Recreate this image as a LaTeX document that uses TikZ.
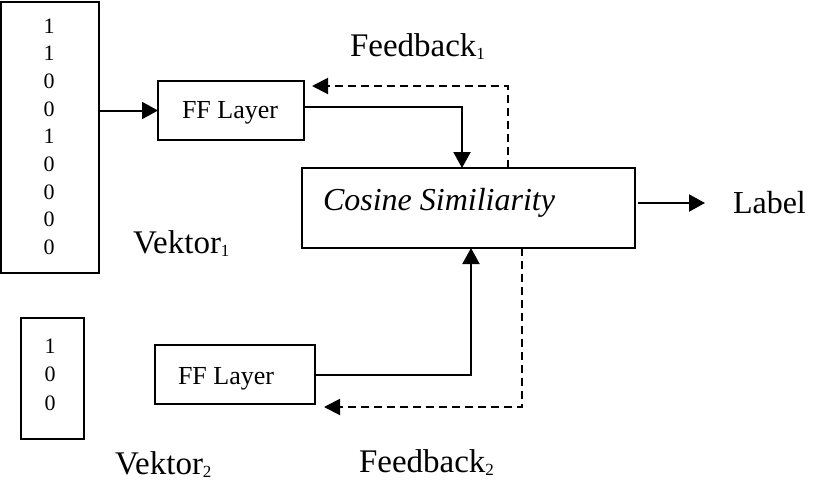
\documentclass[tikz,border=0pt]{standalone}
\usepackage{fontspec}
\setmainfont{Liberation Serif}
\usetikzlibrary{arrows.meta}
\newcommand{\mysub}[1]{\raisebox{-3pt}{\fontsize{17}{17}\selectfont #1}}
\tikzset{
  box/.style={draw, line width=2pt, inner sep=0pt, outer sep=0pt},
  txt/.style={inner sep=0pt, outer sep=0pt, anchor=base west},
  big/.style={font=\fontsize{33}{40}\selectfont},
  mid/.style={font=\fontsize{26}{31}\selectfont},
  dig/.style={inner sep=0pt, anchor=base, font=\fontsize{22}{26}\selectfont},
  arr/.style={line width=2pt, -{Triangle[length=16pt,width=17pt]}},
  darr/.style={line width=2pt, dash pattern=on 8pt off 5pt, -{Triangle[length=16pt,width=16pt]}},
}
\begin{document}
\begin{tikzpicture}[x=1pt,y=-1pt]
\useasboundingbox (0,0) rectangle (813,480);
% vector boxes
\node[box, minimum width=98pt, minimum height=271pt] (v1) at (50,137) {};
\foreach \d [count=\i] in {1,1,0,0,1,0,0,0,0}
  \node[dig] (a\i) at (49,{33+27.7*(\i-1)}) {\d};
\node[box, minimum width=63pt, minimum height=121pt] (v2) at (52.5,378.5) {};
\foreach \d [count=\i] in {1,0,0}
  \node[dig] (b\i) at (50,{353+28.5*(\i-1)}) {\d};
% FF layers
\node[box, minimum width=146pt, minimum height=59pt] (ff1) at (231,110.5) {};
\node[txt, mid] (ff1t) at (182,118) {FF Layer};
\node[box, minimum width=160pt, minimum height=59pt] (ff2) at (235,374.5) {};
\node[txt, mid] (ff2t) at (178,384) {FF Layer};
% cosine
\node[box, minimum width=333pt, minimum height=80pt] (cos) at (468.5,208) {};
\node[txt, font=\fontsize{32}{38}\selectfont\itshape] (cost) at (323,210) {Cosine Similiarity};
% labels
\node[txt, big] (fb1) at (350,56) {Feedback\mysub{1}};
\node[txt, big] (vk1) at (133,253) {Vektor\mysub{1}};
\node[txt, big] (vk2) at (115,474) {Vektor\mysub{2}};
\node[txt, big] (fb2) at (359,472) {Feedback\mysub{2}};
\node[txt, font=\fontsize{32}{38}\selectfont] (lab) at (733,213) {Label};
% connectors
\draw[arr] (v1.east |- ff1.west) -- (ff1.west);
\draw[arr] ([yshift=3.5pt]ff1.east) -| ([xshift=-6.5pt]cos.north);
\draw[darr] ([xshift=39.5pt]cos.north) |- ([xshift=8pt,yshift=-5pt]ff1.north east);
\draw[arr] (ff2.east) -| ([xshift=2.5pt]cos.south);
\draw[darr] ([xshift=53.5pt]cos.south) |- ([xshift=9pt,yshift=-3pt]ff2.south east);
\draw[arr] ([xshift=3pt,yshift=5pt]cos.east) -- ++(67pt,0);
\end{tikzpicture}
\end{document}
